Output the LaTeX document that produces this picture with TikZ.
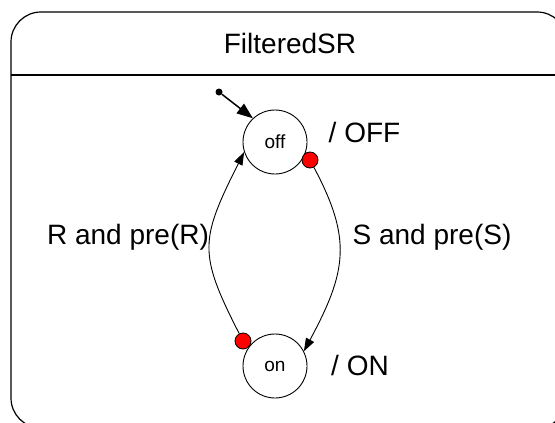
\documentclass[tikz,border=0pt]{standalone}
\usepackage{fontspec}
\setmainfont{Liberation Sans}
\usetikzlibrary{arrows.meta}
\begin{document}
\begin{tikzpicture}[x=1pt,y=-1pt,
  statebox/.style={circle,draw,line width=0.9pt,minimum size=64pt,inner sep=0pt,font=\fontsize{19}{22}\selectfont},
  choice/.style={circle,draw,line width=0.8pt,fill=red,minimum size=16pt,inner sep=0pt},
  initdot/.style={circle,fill=black,minimum size=7pt,inner sep=0pt},
  lbl/.style={anchor=base,inner sep=0pt,font=\fontsize{28}{32}\selectfont},
  trans/.style={line width=0.9pt,-{Triangle[length=13pt,width=9pt]}},
  inittrans/.style={line width=1.5pt,-{Triangle[length=16pt,width=12pt]}}]
\useasboundingbox (0,0) rectangle (555,423);
\begin{scope}
  \clip (0,0) rectangle (555,423);
  \draw[line width=1.2pt,rounded corners=30pt] (11,12) rectangle (567,428);
  \draw[line width=1.2pt] (11,75) -- (567,75);
\end{scope}
\node[lbl] (title) at (290,53) {FilteredSR};
\node[statebox] (off) at (275,142) {off};
\node[statebox] (on) at (275,366) {on};
\node[choice] (c1) at (310,160) {};
\node[choice] (c2) at (243,341) {};
\node[initdot] (init) at (219,92) {};
\draw[inittrans] (init) -- (off.133);
\draw[trans] (c2) .. controls (198,253) and (200,240) .. (off.198);
\draw[trans] (c1) .. controls (352,239) and (347,271) .. (on.27);
\node[lbl] (loff) at (364.5,142) {/ OFF};
\node[lbl] (lon) at (360,375) {/ ON};
\node[lbl] (lr) at (128,244) {R and pre(R)};
\node[lbl] (ls) at (432,244) {S and pre(S)};
\end{tikzpicture}
\end{document}
